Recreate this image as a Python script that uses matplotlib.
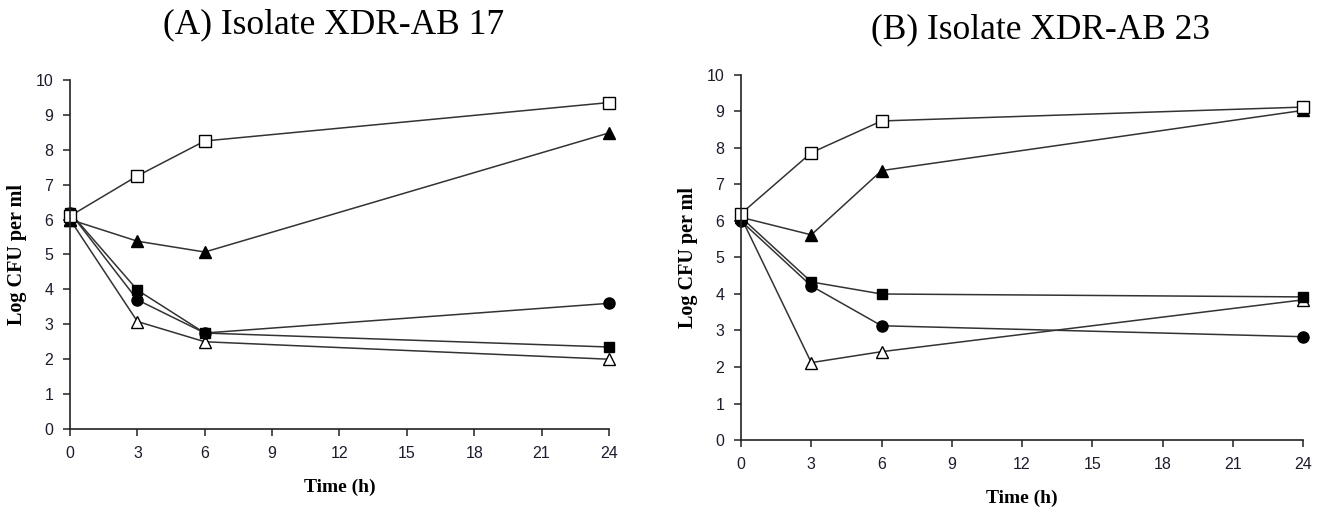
import matplotlib.pyplot as plt

time_h = [0, 3, 6, 24]

# (A) Isolate XDR-AB 17
a_open_sq = [6.1, 7.25, 8.25, 9.35]
a_fill_tri = [6.0, 5.38, 5.07, 8.48]
a_fill_sq = [6.2, 3.98, 2.75, 2.35]
a_fill_circ = [6.2, 3.7, 2.75, 3.6]
a_open_tri = [6.0, 3.08, 2.5, 2.0]

# (B) Isolate XDR-AB 23
b_open_sq = [6.2, 7.87, 8.74, 9.12]
b_fill_tri = [6.1, 5.62, 7.38, 9.03]
b_fill_sq = [6.1, 4.33, 4.0, 3.92]
b_fill_circ = [6.0, 4.22, 3.13, 2.83]
b_open_tri = [6.1, 2.12, 2.42, 3.84]

x_ticks = [0, 3, 6, 9, 12, 15, 18, 21, 24]
y_ticks = list(range(0, 11))

fig = plt.figure(figsize=(13.24, 5.12), dpi=100)
axA = fig.add_axes([0.0529, 0.162, 0.407, 0.682])
axB = fig.add_axes([0.5597, 0.1406, 0.4245, 0.713])

serif = ['Liberation Serif', 'DejaVu Serif']
sans = ['Liberation Sans', 'DejaVu Sans']
line_col = '#333333'


def draw(ax, osq, ftri, fsq, fcirc, otri):
    kw = dict(color=line_col, lw=1.1, clip_on=False, markeredgecolor='black',
              markeredgewidth=1.0)
    ax.plot(time_h, otri, marker='^', markerfacecolor='white', markersize=8, **kw)
    ax.plot(time_h, fcirc, marker='o', markerfacecolor='black', markersize=8, **kw)
    ax.plot(time_h, fsq, marker='s', markerfacecolor='black', markersize=7.5, **kw)
    ax.plot(time_h, ftri, marker='^', markerfacecolor='black', markersize=8.5, **kw)
    ax.plot(time_h, osq, marker='s', markerfacecolor='white', markersize=8, **kw)
    ax.set_xlim(0, 24)
    ax.set_ylim(0, 10)
    ax.set_xticks(x_ticks)
    ax.set_yticks(y_ticks)
    ax.spines['top'].set_visible(False)
    ax.spines['right'].set_visible(False)
    for s in ('left', 'bottom'):
        ax.spines[s].set_linewidth(1.2)
        ax.spines[s].set_color('#222222')
    ax.tick_params(direction='out', length=5, width=1.1, colors='#222222',
                   labelcolor='#1c1c30', labelsize=11.5, pad=7)
    for lab in ax.get_xticklabels() + ax.get_yticklabels():
        lab.set_family(sans)
    ax.set_xlabel('Time (h)', family=serif, fontweight='bold', fontsize=14, labelpad=13)
    ax.set_ylabel('Log CFU per ml', family=serif, fontweight='bold', fontsize=14.5, labelpad=6)
    return ax


draw(axA, a_open_sq, a_fill_tri, a_fill_sq, a_fill_circ, a_open_tri)
draw(axB, b_open_sq, b_fill_tri, b_fill_sq, b_fill_circ, b_open_tri)

fig.text(0.252, 0.952, '(A) Isolate XDR-AB 17', family=serif, fontsize=25.5,
         ha='center', va='center')
fig.text(0.786, 0.942, '(B) Isolate XDR-AB 23', family=serif, fontsize=25.5,
         ha='center', va='center')

fig.savefig('out.png', dpi=100)
